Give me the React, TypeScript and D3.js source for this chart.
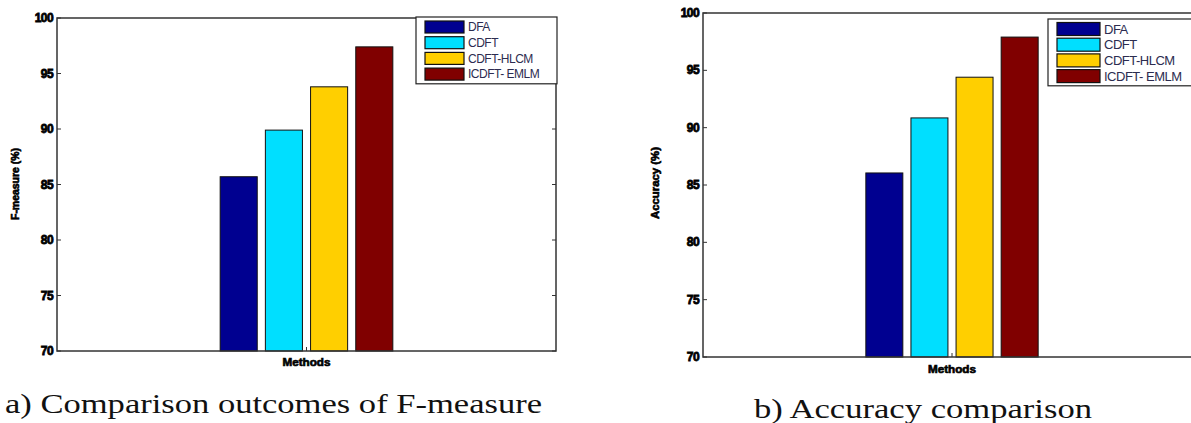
import React, { useEffect, useRef } from "react";
import { select, scaleLinear, scaleBand, range } from "d3";

const methods = ["DFA", "CDFT", "CDFT-HLCM", "ICDFT- EMLM"];
const colors = ["#000090", "#00DFFF", "#FFCF00", "#800000"];
const fMeasure = [85.7, 89.9, 93.8, 97.4];
const accuracy = [86.05, 90.85, 94.4, 97.9];
const yTicks = [70, 75, 80, 85, 90, 95, 100];

const SANS = "'Liberation Sans', Arimo, Arial, Helvetica, sans-serif";
const SERIF = "'Liberation Serif', 'Times New Roman', Times, serif";

const panels = [
  {
    values: fMeasure,
    yLabel: "F-measure (%)",
    caption: "a) Comparison outcomes of F-measure",
    frame: { left: 57, right: 556, top: 18, bottom: 351 },
    legend: { x: 416, y: 17, w: 141, row: 15.7, sw: 39, sh: 12, font: 12 },
    yLabelPos: [16, 184],
    xLabelY: 366,
    captionPos: [5, 413, 537],
  },
  {
    values: accuracy,
    yLabel: "Accuracy (%)",
    caption: "b) Accuracy comparison",
    frame: { left: 703, right: 1201, top: 13, bottom: 357 },
    legend: { x: 1048, y: 19, w: 153, row: 15.7, sw: 43, sh: 13, font: 13 },
    yLabelPos: [656, 183],
    xLabelY: 373,
    captionPos: [754, 418, 338],
  },
];

function App() {
  const ref = useRef(null);

  useEffect(() => {
    const svg = select(ref.current);
    svg.selectAll("*").remove();

    panels.forEach((p) => {
      const { left, right, top, bottom } = p.frame;
      const g = svg.append("g");
      const y = scaleLinear().domain([70, 100]).range([bottom, top]);
      const outer = scaleBand()
        .domain(["Methods"])
        .range([left, right])
        .paddingInner(0)
        .paddingOuter(0.88);
      const inner = scaleBand()
        .domain(methods)
        .range([outer("Methods"), outer("Methods") + outer.bandwidth()])
        .paddingInner(0.18)
        .paddingOuter(0.09);

      g.append("rect")
        .attr("x", left)
        .attr("y", top)
        .attr("width", right - left)
        .attr("height", bottom - top)
        .attr("fill", "#fff");

      // bars
      g.selectAll("rect.bar")
        .data(p.values)
        .enter()
        .append("rect")
        .attr("class", "bar")
        .attr("x", (d, i) => inner(methods[i]))
        .attr("y", (d) => y(d))
        .attr("width", inner.bandwidth())
        .attr("height", (d) => y(70) - y(d))
        .attr("fill", (d, i) => colors[i])
        .attr("stroke", "#111")
        .attr("stroke-width", 1);

      // axis box
      g.append("rect")
        .attr("x", left)
        .attr("y", top)
        .attr("width", right - left)
        .attr("height", bottom - top)
        .attr("fill", "none")
        .attr("stroke", "#333")
        .attr("stroke-width", 1.5);

      // y ticks, inward on both sides
      yTicks.forEach((t) => {
        g.append("line")
          .attr("x1", left)
          .attr("x2", left + 4)
          .attr("y1", y(t))
          .attr("y2", y(t))
          .attr("stroke", "#333");
        g.append("line")
          .attr("x1", right)
          .attr("x2", right - 4)
          .attr("y1", y(t))
          .attr("y2", y(t))
          .attr("stroke", "#333");
        g.append("text")
          .text(t)
          .attr("x", left - 4)
          .attr("y", y(t) + 4)
          .attr("text-anchor", "end")
          .style("font-family", SANS)
          .style("font-weight", "bold")
          .style("font-size", "12px")
          .style("letter-spacing", "-0.6px")
          .style("stroke", "#000")
          .style("stroke-width", "0.8px")
          .attr("fill", "#000");
      });

      // x tick
      const cx = outer("Methods") + outer.bandwidth() / 2;
      g.append("line")
        .attr("x1", cx)
        .attr("x2", cx)
        .attr("y1", bottom)
        .attr("y2", bottom - 4)
        .attr("stroke", "#333");

      g.append("text")
        .text("Methods")
        .attr("x", cx)
        .attr("y", p.xLabelY)
        .attr("text-anchor", "middle")
        .style("font-family", SANS)
        .style("font-weight", "bold")
        .style("font-size", "10px")
        .style("stroke", "#000")
        .style("stroke-width", "0.6px")
        .attr("textLength", 48)
        .attr("lengthAdjust", "spacingAndGlyphs");

      g.append("text")
        .text(p.yLabel)
        .attr(
          "transform",
          `translate(${p.yLabelPos[0] + 3},${p.yLabelPos[1]}) rotate(-90)`
        )
        .attr("text-anchor", "middle")
        .style("font-family", SANS)
        .style("font-weight", "bold")
        .style("font-size", "10px")
        .style("stroke", "#000")
        .style("stroke-width", "0.6px")
        .attr("textLength", 72)
        .attr("lengthAdjust", "spacingAndGlyphs");

      // legend
      const L = p.legend;
      const lg = g.append("g");
      lg.append("rect")
        .attr("x", L.x)
        .attr("y", L.y)
        .attr("width", L.w)
        .attr("height", L.row * 4 + 4)
        .attr("fill", "#fff")
        .attr("stroke", "#222")
        .attr("stroke-width", 1.2);
      const rowY = range(methods.length).map((i) => L.y + 10 + i * L.row);
      methods.forEach((m, i) => {
        lg.append("rect")
          .attr("x", L.x + 9)
          .attr("y", rowY[i] - L.sh / 2)
          .attr("width", L.sw)
          .attr("height", L.sh)
          .attr("fill", colors[i])
          .attr("stroke", "#111")
          .attr("stroke-width", 1.2);
        lg.append("text")
          .text(m)
          .attr("x", L.x + L.sw + 13)
          .attr("y", rowY[i] + L.font * 0.36)
          .style("font-family", SANS)
          .style("font-size", `${L.font}px`)
          .style("letter-spacing", "-0.5px")
          .attr("fill", "#2c2c50");
      });

      // caption
      svg
        .append("text")
        .text(p.caption)
        .attr("x", p.captionPos[0])
        .attr("y", p.captionPos[1])
        .style("font-family", SERIF)
        .style("font-size", "28px")
        .attr("textLength", p.captionPos[2])
        .attr("lengthAdjust", "spacingAndGlyphs")
        .attr("fill", "#111");
    });
  }, []);

  return (
    <svg
      ref={ref}
      width={1191}
      height={423}
      style={{ position: "absolute", left: 0, top: 0, background: "#fff" }}
    />
  );
}

export default App;
